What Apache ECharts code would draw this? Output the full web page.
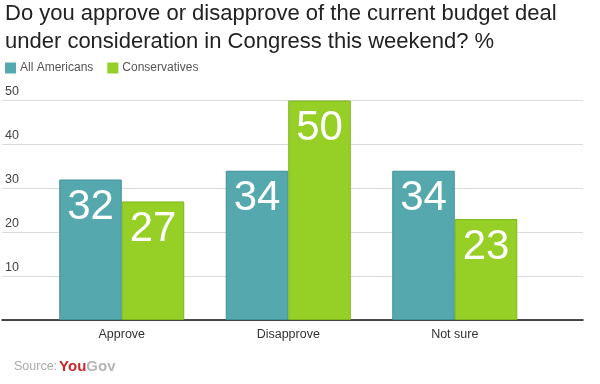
<!DOCTYPE html>
<html>
<head>
<meta charset="utf-8">
<script src="https://cdn.jsdelivr.net/npm/echarts@6/dist/echarts.min.js"></script>
<style>html,body{margin:0;padding:0;background:#fff}#c{width:600px;height:384px}</style>
</head>
<body>
<div id="c"></div>
<script>
var categories = ['Approve', 'Disapprove', 'Not sure'];
var allAmericans = [32, 34, 34];
var conservatives = [27, 50, 23];
var seriesNames = ['All Americans', 'Conservatives'];
var titleText = 'Do you approve or disapprove of the current budget deal\nunder consideration in Congress this weekend? %';

var FONT = 'Liberation Sans, Arial, sans-serif';
var chart = echarts.init(document.getElementById('c'));
var labelStyle = {show: true, position: 'insideTop', distance: 7, fontSize: 42, color: '#fff', fontFamily: FONT};
chart.setOption({
  animation: false,
  title: {
    text: titleText, left: 0, top: -5,
    textStyle: {fontSize: 22, fontWeight: 'normal', color: '#222', lineHeight: 28, fontFamily: FONT}
  },
  legend: {
    left: 0, top: 57, icon: 'rect', itemWidth: 11, itemHeight: 11, itemGap: 14,
    itemStyle: {borderWidth: 0},
    textStyle: {fontSize: 12, color: '#555', fontFamily: FONT, padding: [0, 0, 0, -1]},
    data: seriesNames
  },
  grid: [
    {left: 2, right: 17, top: 100.5, bottom: 64},
    {left: 38.5, right: 62, top: 100.5, bottom: 64}
  ],
  xAxis: [
    {type: 'value', gridIndex: 0, min: 0, max: 1, show: true,
     axisLine: {show: true, onZero: false, lineStyle: {color: '#111', width: 1.5}},
     axisTick: {show: false}, axisLabel: {show: false}, splitLine: {show: false}},
    {type: 'category', gridIndex: 1, data: categories,
     axisLine: {show: false}, axisTick: {show: false},
     axisLabel: {fontSize: 12.5, color: '#333', margin: 8, fontFamily: FONT}}
  ],
  yAxis: [
    {type: 'value', gridIndex: 0, min: 0, max: 50, interval: 10,
     axisLine: {show: false}, axisTick: {show: false},
     axisLabel: {inside: true, showMinLabel: false, margin: 3, verticalAlign: 'bottom', padding: [0, 0, 2, 0], fontSize: 12.5, color: '#444', fontFamily: FONT},
     splitLine: {lineStyle: {color: '#dadada', width: 1}}},
    {type: 'value', gridIndex: 1, min: 0, max: 50, interval: 10, show: false}
  ],
  series: [
    {name: seriesNames[0], type: 'bar', xAxisIndex: 1, yAxisIndex: 1, data: allAmericans,
     barWidth: 62.5, barGap: '0%',
     itemStyle: {color: '#55a9ae', borderColor: '#3f9196', borderWidth: 1},
     label: labelStyle},
    {name: seriesNames[1], type: 'bar', xAxisIndex: 1, yAxisIndex: 1, data: conservatives,
     barWidth: 62.5, barGap: '0%',
     itemStyle: {color: '#96cf25', borderColor: '#7db51c', borderWidth: 1},
     label: labelStyle}
  ],
  graphic: [{
    type: 'text', left: 14, top: 359,
    style: {
      text: '{a|Source:}{b|You}{c|Gov}',
      rich: {
        a: {fontSize: 12.5, fill: '#aaa', fontFamily: FONT, padding: [0, 2, 0, 0]},
        b: {fontSize: 15, fill: '#c8282d', fontWeight: 'bold', fontFamily: FONT},
        c: {fontSize: 15, fill: '#b5b5b5', fontWeight: 'bold', fontFamily: FONT}
      }
    }
  }]
});
</script>
</body>
</html>
